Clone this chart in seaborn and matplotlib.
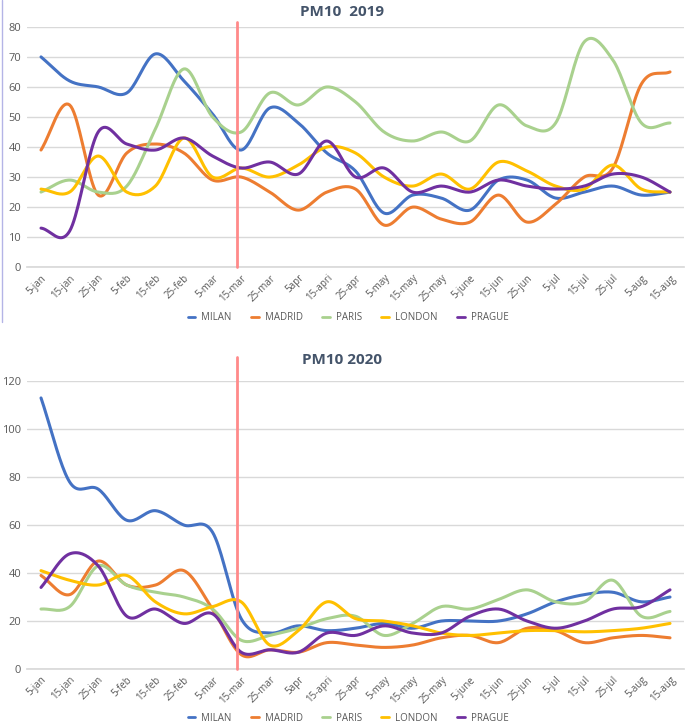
import numpy as np
import pandas as pd
import matplotlib
matplotlib.use("Agg")
import matplotlib.pyplot as plt
import matplotlib.transforms as mtransforms
from matplotlib.lines import Line2D
import seaborn as sns

# Categories (dates)
DATES = ["5-jan", "15-jan", "25-jan", "5-feb", "15-feb", "25-feb", "5-mar",
         "15-mar", "25-mar", "5apr", "15-apri", "25-apr", "5-may", "15-may",
         "25-may", "5-june", "15-jun", "25-jun", "5-jul", "15-jul", "25-jul",
         "5-aug", "15-aug"]
CITIES = ["MILAN", "MADRID", "PARIS", "LONDON", "PRAGUE"]

# PM10 2019
milan_2019 = [70, 62, 60, 58, 71, 62, 51, 39, 53, 48, 38, 32, 18, 24, 23, 19, 29, 29, 23, 25, 27, 24, 25]
madrid_2019 = [39, 54, 24, 38, 41, 38, 29, 30, 25, 19, 25, 26, 14, 20, 16, 15, 24, 15, 21, 30, 33, 61, 65]
paris_2019 = [25, 29, 25, 27, 46, 66, 50, 45, 58, 54, 60, 55, 45, 42, 45, 42, 54, 47, 48, 75, 69, 48, 48]
london_2019 = [26, 25, 37, 25, 27, 43, 30, 33, 30, 34, 40, 38, 30, 27, 31, 26, 35, 32, 27, 26, 34, 26, 25]
prague_2019 = [13, 12, 45, 41, 39, 43, 37, 33, 35, 31, 42, 30, 33, 25, 27, 25, 29, 27, 26, 27, 31, 30, 25]

# PM10 2020
milan_2020 = [113, 78, 75, 62, 66, 60, 57, 21, 15, 18, 16, 17, 19, 17, 20, 20, 20, 23, 28, 31, 32, 28, 30]
madrid_2020 = [39, 31, 45, 35, 35, 41, 25, 6, 8, 7, 11, 10, 9, 10, 13, 14, 11, 17, 16, 11, 13, 14, 13]
paris_2020 = [25, 26, 43, 35, 32, 30, 25, 12, 14, 17, 21, 22, 14, 19, 26, 25, 29, 33, 28, 28, 37, 22, 24]
london_2020 = [41, 37, 35, 39, 28, 23, 26, 28, 10, 16, 28, 21, 20, 18, 15, 14, 15, 16, 16, 15.5, 16, 17, 19]
prague_2020 = [34, 48, 43, 22, 25, 19, 23, 7, 8, 7, 15, 14, 18, 15, 15, 22, 25, 20, 17, 20, 25, 26, 33]

COLORS = {"MILAN": "#4472C4", "MADRID": "#ED7D31", "PARIS": "#A9D18E",
          "LONDON": "#FFC000", "PRAGUE": "#7030A0"}
LOCKDOWN_X = 6.85


def smooth(y, steps=20):
    """Catmull-Rom curve through the points, like Excel's smoothed line."""
    y = np.asarray(y, dtype=float)
    x = np.arange(len(y), dtype=float)
    px = np.concatenate([[2 * x[0] - x[1]], x, [2 * x[-1] - x[-2]]])
    py = np.concatenate([[2 * y[0] - y[1]], y, [2 * y[-1] - y[-2]]])
    xs, ys = [], []
    t = np.linspace(0, 1, steps, endpoint=False)
    for i in range(1, len(px) - 2):
        for arr, out in ((px, xs), (py, ys)):
            p0, p1, p2, p3 = arr[i - 1], arr[i], arr[i + 1], arr[i + 2]
            out.extend(0.5 * (2 * p1 + (-p0 + p2) * t
                              + (2 * p0 - 5 * p1 + 4 * p2 - p3) * t ** 2
                              + (-p0 + 3 * p1 - 3 * p2 + p3) * t ** 3))
    xs.append(x[-1])
    ys.append(y[-1])
    return xs, ys


def long_frame(series):
    rows = []
    for city, vals in zip(CITIES, series):
        xs, ys = smooth(vals)
        rows.append(pd.DataFrame({"x": xs, "y": ys, "city": city}))
    return pd.concat(rows, ignore_index=True)


def draw_panel(ax, series, ymax, ystep, line_top, title, title_y, legend_y):
    df = long_frame(series)
    sns.lineplot(data=df, x="x", y="y", hue="city", palette=COLORS,
                 hue_order=CITIES, estimator=None, sort=False,
                 linewidth=2.2, ax=ax, legend=False)
    ax.plot([LOCKDOWN_X, LOCKDOWN_X], [0, line_top], color="#FF8A8A",
            linewidth=2, clip_on=False, zorder=5)

    ax.set_xlim(-0.5, len(DATES) - 0.5)
    ax.set_ylim(0, ymax)
    ax.set_yticks(np.arange(0, ymax + 1, ystep))
    ax.set_xticks(np.arange(len(DATES)))
    ax.set_xticklabels(DATES, rotation=45, ha="right", rotation_mode="anchor",
                       fontsize=7, color="#595959")
    shift = mtransforms.ScaledTranslation(6 / 72, 0, fig.dpi_scale_trans)
    for lab in ax.get_xticklabels():
        lab.set_transform(lab.get_transform() + shift)
    ax.set_xticks(np.arange(-0.5, len(DATES)), minor=True)
    ax.tick_params(axis="x", which="major", length=0, pad=4)
    ax.tick_params(axis="x", which="minor", length=4, color="#D9D9D9")
    ax.tick_params(axis="y", length=0, labelsize=8, labelcolor="#595959", pad=4)
    ax.grid(axis="y", color="#D9D9D9", linewidth=1)
    ax.grid(axis="x", visible=False)
    ax.set_xlabel("")
    ax.set_ylabel("")
    for side in ["left", "right", "top"]:
        ax.spines[side].set_visible(False)
    ax.spines["bottom"].set_color("#D9D9D9")

    fig.text(0.5, title_y, title, ha="center", va="center", fontsize=11,
             fontweight="bold", color="#44546A")

    handles = [Line2D([0], [0], color=COLORS[c], linewidth=2) for c in CITIES]
    fig.legend(handles, CITIES, loc="center", bbox_to_anchor=(0.508, legend_y),
               ncol=5, frameon=False, fontsize=7, handlelength=0.8,
               columnspacing=2.0, handletextpad=0.6, labelcolor="#595959")


sns.set_theme(style="white")
plt.rcParams["font.family"] = ["Open Sans", "DejaVu Sans"]

fig = plt.figure(figsize=(6.85, 7.26), dpi=100)
ax1 = fig.add_axes([0.039, 0.632, 0.96, 0.331])
ax2 = fig.add_axes([0.039, 0.0785, 0.96, 0.3965])

draw_panel(ax1, [milan_2019, madrid_2019, paris_2019, london_2019, prague_2019],
           80, 10, 81.7, "PM10  2019", 0.9835, 0.562)
draw_panel(ax2, [milan_2020, madrid_2020, paris_2020, london_2020, prague_2020],
           120, 20, 130, "PM10 2020", 0.504, 0.011)

# thin frame edge on the left of the top panel
fig.add_artist(Line2D([0.003, 0.003], [1 - 322 / 726, 1.0], color="#B4B4E6",
                      linewidth=1, transform=fig.transFigure))

fig.savefig("out.png", dpi=100)
